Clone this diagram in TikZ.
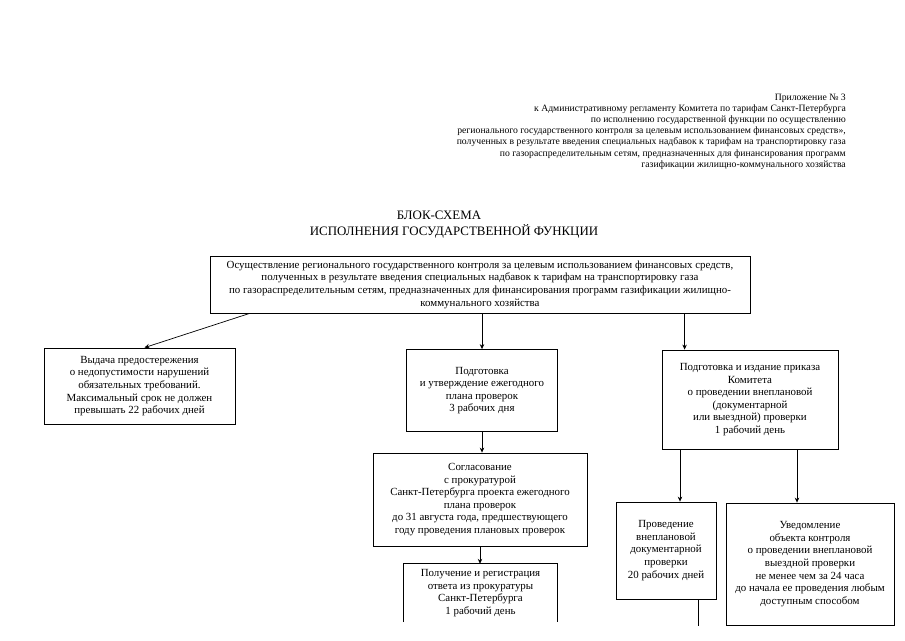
\documentclass[tikz,border=0pt]{standalone}
\usepackage{fontspec}
\setmainfont{Liberation Serif}
\usetikzlibrary{arrows.meta,calc}

\begin{document}
\begin{tikzpicture}[
  x=1pt, y=-1pt,
  font=\fontsize{10.9}{12.6}\selectfont,
  blok/.style={draw, line width=0.8pt, align=center, inner sep=2pt},
  arr/.style={-{Stealth[length=5pt,width=4.5pt]}, line width=0.7pt},
  line/.style={line width=0.7pt},
]
\useasboundingbox (0,0) rectangle (905,640);

% шапка приложения, выравнивание вправо
\node[font=\fontsize{9.7}{11.2}\selectfont, align=right, anchor=north east, inner sep=0pt] (app) at (846,93.5)
  {Приложение № 3\\
   к Административному регламенту Комитета по тарифам Санкт-Петербурга\\
   по исполнению государственной функции по осуществлению\\
   регионального государственного контроля за целевым использованием финансовых средств»,\\
   полученных в результате введения специальных надбавок к тарифам на транспортировку газа\\
   по газораспределительным сетям, предназначенных для финансирования программ\\
   газификации жилищно-коммунального хозяйства};

\node[font=\fontsize{12.9}{16}\selectfont] (ttl1) at (439,215) {БЛОК-СХЕМА};
\node[font=\fontsize{12.9}{16}\selectfont] (ttl2) at (454,231) {ИСПОЛНЕНИЯ ГОСУДАРСТВЕННОЙ ФУНКЦИИ};

% блоки (координаты в пикселях макета)
\node[blok, minimum width=540, minimum height=57] (main) at (480,284.5)
  {Осуществление регионального государственного контроля за целевым использованием финансовых средств,\\
   полученных в результате введения специальных надбавок к тарифам на транспортировку газа\\
   по газораспределительным сетям, предназначенных для финансирования программ газификации жилищно-\\
   коммунального хозяйства};
\node[blok, minimum width=191, minimum height=76] (warn) at (139.5,386)
  {Выдача предостережения\\о недопустимости нарушений\\обязательных требований.\\Максимальный срок не должен\\превышать 22 рабочих дней};
\node[blok, minimum width=151, minimum height=82] (plan) at (482,390.5)
  {Подготовка\\и утверждение ежегодного\\плана проверок\\3 рабочих дня};
\node[blok, minimum width=214, minimum height=93] (agree) at (480,499.5)
  {Согласование\\с прокуратурой\\Санкт-Петербурга проекта ежегодного\\плана проверок\\до 31 августа года, предшествующего\\году проведения плановых проверок};
\node[align=center, inner sep=2pt, minimum width=153, minimum height=58] (reply) at (480.5,593)
  {Получение и регистрация\\ответа из прокуратуры\\Санкт-Петербурга\\1 рабочий день};
\node[blok, minimum width=176, minimum height=99] (order) at (750,399.5)
  {Подготовка и издание приказа\\Комитета\\о проведении внеплановой\\(документарной\\или выездной) проверки\\1 рабочий день};
\node[blok, minimum width=100, minimum height=97] (docch) at (666,550.5)
  {Проведение\\внеплановой\\документарной\\проверки\\20 рабочих дней};
\node[blok, minimum width=168, minimum height=122] (visit) at (810,564)
  {Уведомление\\объекта контроля\\о проведении внеплановой\\выездной проверки\\не менее чем за 24 часа\\до начала ее проведения любым\\доступным способом};

% нижний блок обрезан листом: без нижней стороны
\draw[line width=0.8pt] (reply.south west) |- (reply.north east) -- (reply.south east);

\path (order.north west) ++(23,0) coordinate (r1);
\path (docch.north) ++(14,0) coordinate (d1);
\path (visit.north) ++(-13,0) coordinate (d2);
\coordinate (cut) at (698,626);

\draw[arr] ($(main.south west)+(40,0)$) -- ($(warn.north)+(5,0)$);
\draw[arr] (plan.north |- main.south) -- (plan.north);
\draw[arr] (plan.south) -- (plan.south |- agree.north);
\draw[arr] (agree.south) -- (agree.south |- reply.north);
\draw[arr] (main.south -| r1) -- (r1);
\draw[arr] (order.south -| d1) -- (d1);
\draw[arr] (order.south -| d2) -- (d2);
\draw[line] (docch.south -| cut) -- (cut);
\end{tikzpicture}
\end{document}
